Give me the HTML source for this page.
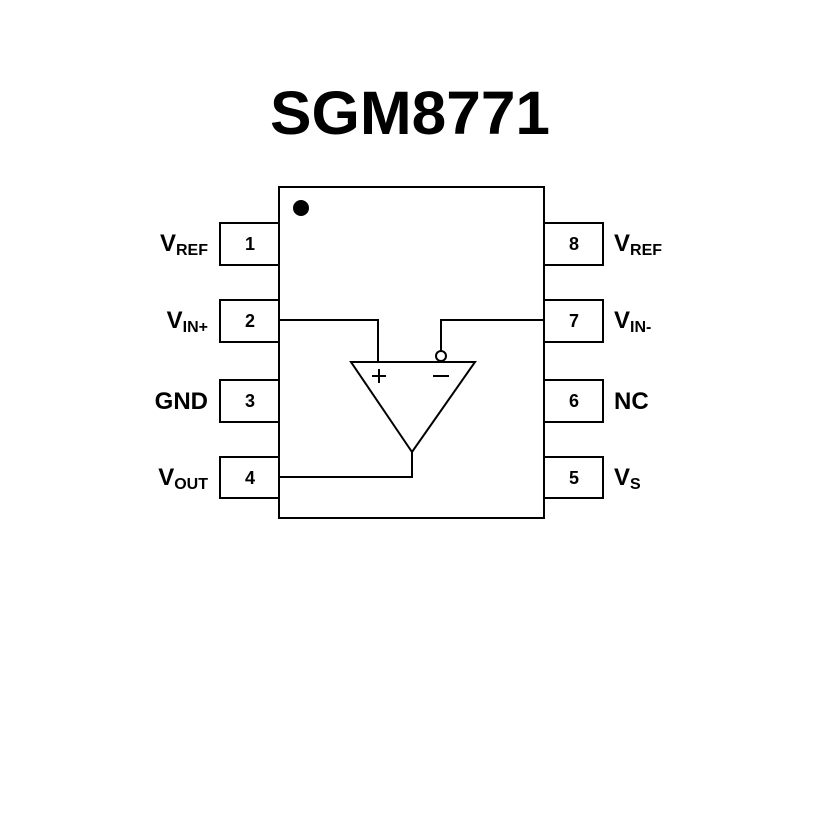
<!DOCTYPE html>
<html><head><meta charset="utf-8"><style>
html,body{margin:0;padding:0;background:#fff;}
svg{display:block;}
text{font-family:"Liberation Sans",Arial,sans-serif;font-weight:bold;fill:#000;}
</style></head><body>
<svg width="827" height="827" viewBox="0 0 827 827" xmlns="http://www.w3.org/2000/svg">
<text x="270" y="134" font-size="61" textLength="280" lengthAdjust="spacingAndGlyphs">SGM8771</text>
<g fill="none" stroke="#000" stroke-width="2">
<rect x="279" y="187" width="265" height="331"/>
<rect x="220" y="223" width="59" height="42"/>
<rect x="220" y="300" width="59" height="42"/>
<rect x="220" y="380" width="59" height="42"/>
<rect x="220" y="457" width="59" height="41"/>
<rect x="544" y="223" width="59" height="42"/>
<rect x="544" y="300" width="59" height="42"/>
<rect x="544" y="380" width="59" height="42"/>
<rect x="544" y="457" width="59" height="41"/>
<polygon points="351,362 475,362 412,452"/>
<polyline points="279,320 378,320 378,362"/>
<polyline points="544,320 441,320 441,351"/>
<circle cx="441" cy="356" r="5" fill="#fff"/>
<polyline points="279,477 412,477 412,452"/>
<line x1="372" y1="376" x2="386" y2="376"/>
<line x1="379" y1="369" x2="379" y2="383"/>
<line x1="433" y1="376" x2="449" y2="376"/>
</g>
<circle cx="301" cy="208" r="8" fill="#000"/>
<g font-size="18" text-anchor="middle">
<text x="250" y="250">1</text><text x="250" y="327">2</text><text x="250" y="407">3</text><text x="250" y="484">4</text>
<text x="574" y="250">8</text><text x="574" y="327">7</text><text x="574" y="407">6</text><text x="574" y="484">5</text>
</g>
<g font-size="24">
<text x="208" y="251" text-anchor="end">V<tspan font-size="16" dy="4">REF</tspan></text>
<text x="208" y="328" text-anchor="end">V<tspan font-size="16" dy="4">IN+</tspan></text>
<text x="208" y="409" text-anchor="end">GND</text>
<text x="208" y="485" text-anchor="end">V<tspan font-size="16" dy="4">OUT</tspan></text>
<text x="614" y="251">V<tspan font-size="16" dy="4">REF</tspan></text>
<text x="614" y="328">V<tspan font-size="16" dy="4">IN-</tspan></text>
<text x="614" y="409">NC</text>
<text x="614" y="485">V<tspan font-size="16" dy="4">S</tspan></text>
</g>
</svg>
</body></html>
